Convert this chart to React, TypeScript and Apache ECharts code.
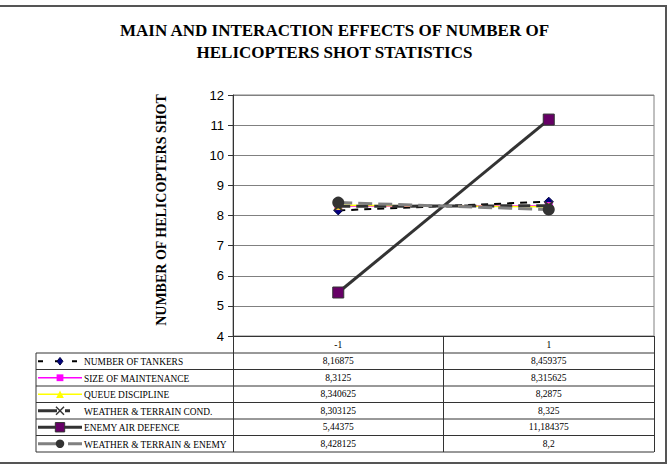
import React, { useEffect, useRef } from "react";
import * as echarts from "echarts";

const categories = ["-1", "1"];
const seriesNames = [
  "NUMBER OF TANKERS",
  "SIZE OF MAINTENANCE",
  "QUEUE DISCIPLINE",
  "WEATHER & TERRAIN COND.",
  "ENEMY AIR DEFENCE",
  "WEATHER & TERRAIN & ENEMY",
];
const tankers = [8.16875, 8.459375];
const maintenance = [8.3125, 8.315625];
const queueDiscipline = [8.340625, 8.2875];
const weatherCond = [8.303125, 8.325];
const enemyAirDefence = [5.44375, 11.184375];
const weatherTerrainEnemy = [8.428125, 8.2];
const seriesValues = [tankers, maintenance, queueDiscipline, weatherCond, enemyAirDefence, weatherTerrainEnemy];
const yMin = 4;
const yMax = 12;
const yInterval = 1;

const W = 669;
const H = 465;
const GRID_LEFT = 233;
const GRID_RIGHT_X = 654;
const GRID_TOP = 95;
const GRID_BOTTOM_Y = 336;
const TABLE_LEFT = 36;
const ROW_TOP = 353;
const ROW_H = 16.5;
const SERIF = "'Liberation Serif', 'Times New Roman', serif";
const SANS = "'Liberation Sans', Arial, sans-serif";

const xPath = "path://M0,0L10,10M10,0L0,10";

const styles = [
  { line: "#000000", width: 2, dash: [7, 6] as any, symbol: "diamond", size: 9, fill: "#000080", border: "#000040", bw: 1, keyDash: [5, 12] },
  { line: "#FF00FF", width: 1.5, dash: "solid" as any, symbol: "rect", size: 8, fill: "#FF00FF", border: "#FF00FF", bw: 0, keyDash: null },
  { line: "#FFFF00", width: 1.5, dash: "solid" as any, symbol: "triangle", size: 9, fill: "#FFFF00", border: "#FFFF00", bw: 0, keyDash: null },
  { line: "#333333", width: 3, dash: [12, 6] as any, symbol: xPath, size: 8, fill: "rgba(0,0,0,0)", border: "#333333", bw: 2, keyDash: [19, 8, 5, 100] },
  { line: "#333333", width: 3, dash: "solid" as any, symbol: "rect", size: 11, fill: "#660066", border: "#333333", bw: 1, keyDash: null },
  { line: "#808080", width: 3, dash: [14, 6] as any, symbol: "circle", size: 12, fill: "#333333", border: "#333333", bw: 0, keyDash: [18, 12, 16, 100] },
];

function fmt(v: number) {
  return String(v).replace(".", ",");
}

export default function App() {
  const ref = useRef<HTMLDivElement>(null);
  useEffect(() => {
    if (!ref.current) return;
    const chart = echarts.init(ref.current, null, { renderer: "svg" });
    const option: any = {
      animation: false,
      backgroundColor: "#ffffff",
      grid: {
        left: GRID_LEFT,
        right: W - GRID_RIGHT_X,
        top: GRID_TOP,
        bottom: H - GRID_BOTTOM_Y,
        show: true,
        borderColor: "#808080",
        borderWidth: 1,
        containLabel: false,
      },
      xAxis: {
        type: "category",
        data: categories,
        boundaryGap: true,
        axisLine: { show: true, lineStyle: { color: "#333", width: 1 } },
        axisTick: { show: true, length: ROW_TOP + ROW_H * 6 - GRID_BOTTOM_Y, lineStyle: { color: "#333", width: 1 } },
        axisLabel: { margin: 4, fontFamily: SERIF, fontSize: 9.5, color: "#000" },
        splitLine: { show: false },
      },
      yAxis: {
        type: "value",
        min: yMin,
        max: yMax,
        interval: yInterval,
        axisLine: { show: true, lineStyle: { color: "#333", width: 1 } },
        axisTick: { show: true, length: 5, lineStyle: { color: "#333" } },
        axisLabel: { margin: 9, fontFamily: SANS, fontSize: 13, color: "#000" },
        splitLine: { show: true, lineStyle: { color: "#808080", width: 1 } },
      },
      series: seriesNames.map((name, i) => ({
        name,
        type: "line",
        data: seriesValues[i],
        symbol: styles[i].symbol,
        symbolSize: styles[i].size,
        showSymbol: true,
        lineStyle: { color: styles[i].line, width: styles[i].width, type: styles[i].dash },
        itemStyle: { color: styles[i].fill, borderColor: styles[i].border, borderWidth: styles[i].bw },
        z: 2 + i,
      })),
    };
    chart.setOption(option);

    const colX = categories.map((c) => chart.convertToPixel({ xAxisIndex: 0 }, c) as number);
    const graphics: any[] = [];
    // title
    graphics.push({
      type: "text",
      x: W / 2,
      y: 30,
      style: { text: "MAIN AND INTERACTION EFFECTS OF NUMBER OF", fontFamily: SERIF, fontWeight: "bold", fontSize: 17, fill: "#000", textAlign: "center", textVerticalAlign: "middle" },
    });
    graphics.push({
      type: "text",
      x: W / 2,
      y: 52,
      style: { text: "HELICOPTERS SHOT STATISTICS", fontFamily: SERIF, fontWeight: "bold", fontSize: 17, fill: "#000", textAlign: "center", textVerticalAlign: "middle" },
    });
    // y axis title
    graphics.push({
      type: "text",
      x: 161,
      y: 210,
      rotation: Math.PI / 2,
      style: { text: "NUMBER OF HELICOPTERS SHOT", fontFamily: SERIF, fontWeight: "bold", fontSize: 14, fill: "#000", textAlign: "center", textVerticalAlign: "middle" },
    });
    // outer frame (top, right, bottom)
    graphics.push({
      type: "polyline",
      shape: { points: [[0, 6], [666, 6], [666, 463], [0, 463]] },
      style: { fill: "none", stroke: "#555", lineWidth: 2 },
      silent: true,
    });
    // table horizontal lines
    for (let r = 0; r <= 6; r++) {
      const y = ROW_TOP + ROW_H * r;
      graphics.push({
        type: "line",
        shape: { x1: TABLE_LEFT, y1: y, x2: GRID_RIGHT_X, y2: y },
        style: { stroke: "#333", lineWidth: 1 },
      });
    }
    graphics.push({
      type: "line",
      shape: { x1: TABLE_LEFT, y1: ROW_TOP, x2: TABLE_LEFT, y2: ROW_TOP + ROW_H * 6 },
      style: { stroke: "#333", lineWidth: 1 },
    });
    seriesNames.forEach((name, i) => {
      const cy = ROW_TOP + ROW_H * (i + 0.5);
      const st = styles[i];
      graphics.push({
        type: "line",
        shape: { x1: 38, y1: cy, x2: 82, y2: cy },
        style: { stroke: st.line, lineWidth: st.width, lineDash: st.keyDash || undefined },
      });
      const mx = 60;
      const s = st.size * 0.85;
      if (st.symbol === "diamond") {
        graphics.push({ type: "polygon", shape: { points: [[mx, cy - s / 2], [mx + s / 2.6, cy], [mx, cy + s / 2], [mx - s / 2.6, cy]] }, style: { fill: st.fill, stroke: st.border, lineWidth: 1 } });
      } else if (st.symbol === "rect") {
        graphics.push({ type: "rect", shape: { x: mx - s / 2, y: cy - s / 2, width: s, height: s }, style: { fill: st.fill, stroke: st.border, lineWidth: st.bw } });
      } else if (st.symbol === "triangle") {
        graphics.push({ type: "polygon", shape: { points: [[mx, cy - s / 2], [mx + s / 2, cy + s / 2], [mx - s / 2, cy + s / 2]] }, style: { fill: st.fill } });
      } else if (st.symbol === "circle") {
        graphics.push({ type: "circle", shape: { cx: mx, cy, r: s / 2.4 }, style: { fill: st.fill } });
      } else {
        const h = 4;
        graphics.push({ type: "line", shape: { x1: mx - h, y1: cy - h, x2: mx + h, y2: cy + h }, style: { stroke: st.border, lineWidth: 1.5 } });
        graphics.push({ type: "line", shape: { x1: mx + h, y1: cy - h, x2: mx - h, y2: cy + h }, style: { stroke: st.border, lineWidth: 1.5 } });
      }
      graphics.push({
        type: "text",
        x: 84,
        y: cy + 1,
        style: { text: name, fontFamily: SERIF, fontSize: 9.4, fill: "#000", textAlign: "left", textVerticalAlign: "middle" },
      });
      seriesValues[i].forEach((v, j) => {
        graphics.push({
          type: "text",
          x: colX[j],
          y: cy,
          style: { text: fmt(v), fontFamily: SERIF, fontSize: 9.5, fill: "#000", textAlign: "center", textVerticalAlign: "middle" },
        });
      });
    });
    chart.setOption({ graphic: graphics });
    return () => chart.dispose();
  }, []);
  return (
    <div
      ref={ref}
      style={{ position: "fixed", left: 0, top: 0, width: W, height: H, background: "#fff" }}
    />
  );
}
